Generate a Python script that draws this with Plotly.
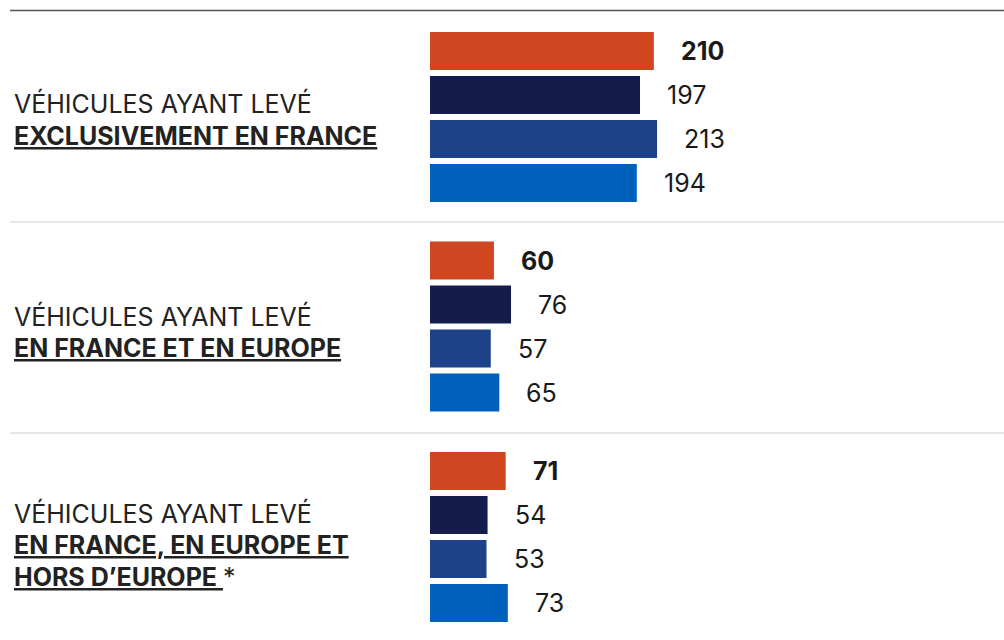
import plotly.graph_objects as go

# Données
groupes = ["Exclusivement en France", "En France et en Europe", "En France, en Europe et hors d'Europe"]
series = ["Série 1", "Série 2", "Série 3", "Série 4"]
valeurs = [
    [210, 197, 213, 194],
    [60, 76, 57, 65],
    [71, 54, 53, 73],
]
couleurs = ["#D04620", "#141C4C", "#1D428A", "#0061BD"]

libelle_haut = "VÉHICULES AYANT LEVÉ"
libelles_bas = [
    ["EXCLUSIVEMENT EN FRANCE"],
    ["EN FRANCE ET EN EUROPE"],
    ["EN FRANCE, EN EUROPE ET", "HORS D’EUROPE "],
]
suffixes = ["", "", "*"]

W, H = 1004, 640
POLICE = "Inter, Roboto, sans-serif"


def px_x(p):
    return p / W


def px_y(p):
    return 1 - p / H


# domaines verticaux (px depuis le haut)
domaines_px = [(29, 205), (238.5, 414.5), (449, 625)]
centres_libelles = [120, 332, 545]
x0_barres = 430

fig = go.Figure()

for i, vals in enumerate(valeurs):
    ax = "" if i == 0 else str(i + 1)
    fig.add_trace(go.Bar(
        x=vals,
        y=series,
        orientation="h",
        marker=dict(color=couleurs, line=dict(width=0)),
        width=0.86,
        xaxis="x" + ax,
        yaxis="y" + ax,
        showlegend=False,
        hoverinfo="skip",
    ))
    top, bot = domaines_px[i]
    fig.layout["yaxis" + ax] = dict(
        domain=[px_y(bot), px_y(top)],
        type="category",
        categoryorder="array",
        categoryarray=series,
        autorange="reversed",
        showticklabels=False,
        showgrid=False,
        zeroline=False,
        anchor="x" + ax,
    )
    fig.layout["xaxis" + ax] = dict(
        domain=[px_x(x0_barres), 1],
        range=[0, (W - x0_barres) / 1.066],
        visible=False,
        anchor="y" + ax,
    )

    # étiquettes de valeur
    for j, v in enumerate(vals):
        fig.add_annotation(
            x=v, y=series[j], xref="x" + ax, yref="y" + ax,
            text=f"<b>{v}</b>" if j == 0 else str(v),
            showarrow=False, xanchor="left", yanchor="middle", xshift=25,
            font=dict(family=POLICE, size=25, color="#1a1a1a"),
        )

    # libellés de gauche
    lignes = [libelle_haut] + libelles_bas[i]
    n = len(lignes)
    for k, ligne in enumerate(lignes):
        y_px = centres_libelles[i] + (k - (n - 1) / 2) * 32
        if k == 0:
            txt = ligne
        else:
            txt = f"<b><span style='text-decoration:underline'>{ligne}</span></b>"
            if k == n - 1 and suffixes[i]:
                txt += suffixes[i]
        fig.add_annotation(
            x=px_x(12), y=px_y(y_px), xref="paper", yref="paper",
            text=txt, showarrow=False, xanchor="left", yanchor="middle",
            font=dict(family=POLICE, size=25, color="#222222"),
        )

# lignes de séparation
fig.add_shape(type="line", xref="paper", yref="paper",
              x0=px_x(10), x1=1, y0=px_y(10.5), y1=px_y(10.5),
              line=dict(color="#555555", width=1.5))
for y_px in (222, 433):
    fig.add_shape(type="line", xref="paper", yref="paper",
                  x0=px_x(10), x1=1, y0=px_y(y_px), y1=px_y(y_px),
                  line=dict(color="#e6e6e6", width=2))

fig.update_layout(
    width=W, height=H,
    margin=dict(l=0, r=0, t=0, b=0),
    paper_bgcolor="white",
    plot_bgcolor="white",
    bargap=0.14,
)

fig.write_html("out.html", config={"displayModeBar": False},
               post_script="document.body.style.margin='0';")
